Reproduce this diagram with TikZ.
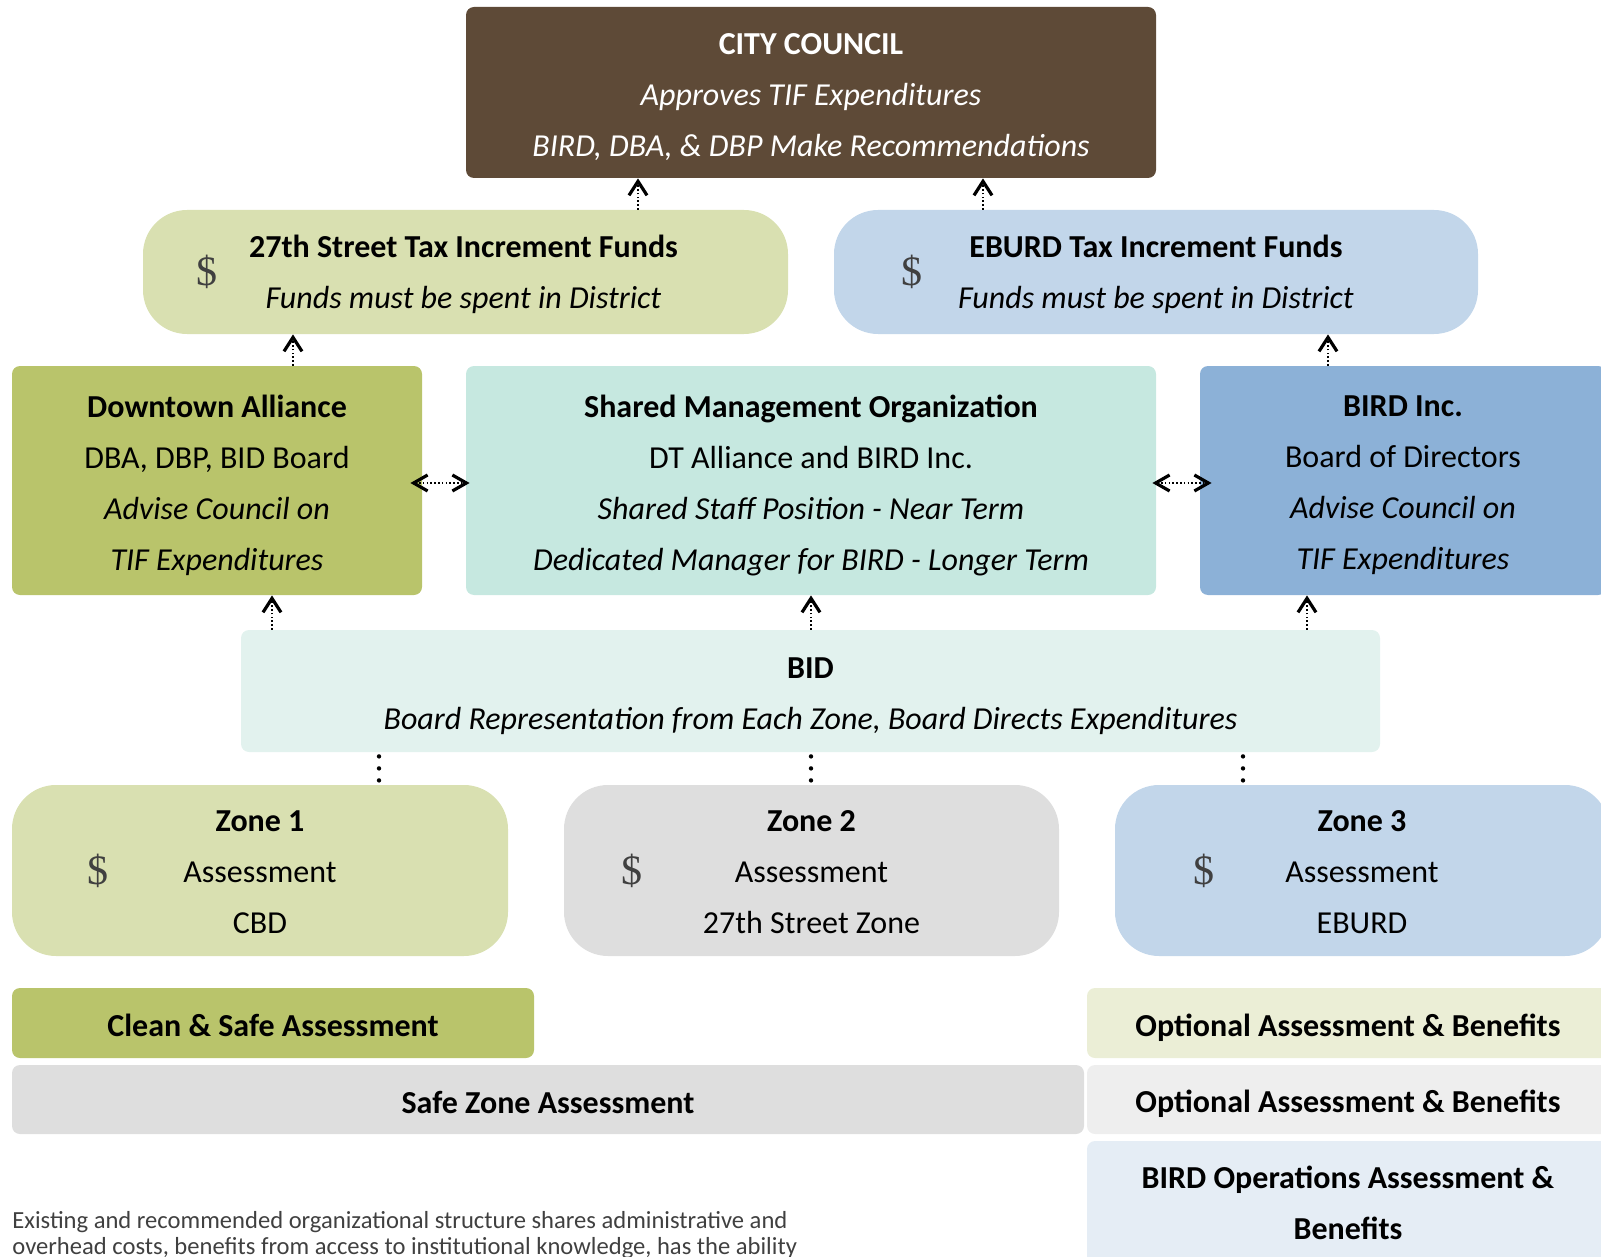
\documentclass[tikz,border=0pt]{standalone}
\usepackage{fontspec}
\setmainfont{Carlito}
\newfontfamily\dollarfont{Liberation Serif}
\usetikzlibrary{arrows.meta,fit}
\definecolor{councilbrown}{HTML}{5E4A37}
\definecolor{olivelight}{HTML}{D9E0B1}
\definecolor{olivemid}{HTML}{B9C46B}
\definecolor{bluelight}{HTML}{C2D6EA}
\definecolor{bluemid}{HTML}{8CB1D7}
\definecolor{tealmid}{HTML}{C6E8E0}
\definecolor{teallight}{HTML}{E2F2EE}
\definecolor{graymid}{HTML}{DEDEDE}
\definecolor{olivepale}{HTML}{EBEED6}
\definecolor{graypale}{HTML}{EEEEEE}
\definecolor{bluepale}{HTML}{E5EDF5}
\definecolor{notegray}{HTML}{404040}

\newcommand{\bodyfont}{\fontsize{16}{25.5}\selectfont}
\tikzset{
  panel/.style={fill=#1, inner sep=0pt, rounded corners=4pt},
  pill/.style={panel=#1, rounded corners=22pt},
  lbl/.style={inner sep=0pt, align=center, font=\bodyfont},
  dollar/.style={font=\dollarfont\fontsize{21}{21}\selectfont, text=notegray, inner sep=0pt},
  upflow/.style={dash pattern=on 0.8pt off 1.1pt, line width=1pt,
    -{Straight Barb[length=7pt,width=9pt,line width=1.6pt]}},
  sideflow/.style={dash pattern=on 0.8pt off 1.1pt, line width=1pt,
    {Straight Barb[length=7pt,width=8pt,line width=1.6pt]}-{Straight Barb[length=7pt,width=8pt,line width=1.6pt]}},
  dotlink/.style={line width=2.2pt, line cap=round, dash pattern=on 0pt off 6pt}
}

\begin{document}
\begin{tikzpicture}[x=0.5pt, y=-0.5pt]
\useasboundingbox (0,0) rectangle (1601,1257);
\clip (0,0) rectangle (1601,1257);

% Council
\node[panel=councilbrown, fit={(466,7) (1156,178)}] (council) {};
\node[lbl, text=white] (councilt) at ([yshift=-2.5pt]council.center)
  {\textbf{CITY COUNCIL}\\ \textit{Approves TIF Expenditures}\\ \textit{BIRD, DBA, \& DBP Make Recommendations}};

% Tax increment funds
\node[pill=olivelight, fit={(143,210) (788,334)}] (fund27) {};
\node[pill=bluelight, fit={(834,210) (1478,334)}] (fundeb) {};
\node[lbl] (fund27t) at ([xshift=-1pt, yshift=-1pt]fund27.center)
  {\textbf{27th Street Tax Increment Funds}\\ \textit{Funds must be spent in District}};
\node[lbl] (fundebt) at ([yshift=-1pt]fundeb.center)
  {\textbf{EBURD Tax Increment Funds}\\ \textit{Funds must be spent in District}};
\node[dollar] (d27) at ([xshift=32pt]fund27.west) {\$};
\node[dollar] (deb) at ([xshift=39pt]fundeb.west) {\$};

% Management row
\node[panel=olivemid, fit={(12,366) (422,595)}] (dta) {};
\node[panel=tealmid, fit={(466,366) (1156,595)}] (smo) {};
\node[panel=bluemid, fit={(1200,366) (1606,595)}] (bird) {};
\node[lbl] (dtat) at ([yshift=-2.5pt]dta.center)
  {\textbf{Downtown Alliance}\\ DBA, DBP, BID Board\\ \textit{Advise Council on}\\ \textit{TIF Expenditures}};
\node[lbl] (smot) at ([yshift=-2.5pt]smo.center)
  {\textbf{Shared Management Organization}\\ DT Alliance and BIRD Inc.\\ \textit{Shared Staff Position - Near Term}\\ \textit{Dedicated Manager for BIRD - Longer Term}};
\node[lbl] (birdt) at ([yshift=-2.5pt]bird.center)
  {\textbf{BIRD Inc.}\\ Board of Directors\\ \textit{Advise Council on}\\ \textit{TIF Expenditures}};

% BID
\node[panel=teallight, fit={(241,630) (1380,752)}] (bid) {};
\node[lbl] (bidt) at ([yshift=-2.5pt]bid.center)
  {\textbf{BID}\\ \textit{Board Representation from Each Zone, Board Directs Expenditures}};

% Zones
\node[pill=olivelight, fit={(12,785) (508,956)}] (zone1) {};
\node[pill=graymid, fit={(564,785) (1059,956)}] (zone2) {};
\node[pill=bluelight, fit={(1115,785) (1609,956)}] (zone3) {};
\node[lbl] (zone1t) at ([yshift=-1pt]zone1.center) {\textbf{Zone 1}\\ Assessment\\ CBD};
\node[lbl] (zone2t) at ([yshift=-1pt]zone2.center) {\textbf{Zone 2}\\ Assessment\\ 27th Street Zone};
\node[lbl] (zone3t) at ([yshift=-1pt]zone3.center) {\textbf{Zone 3}\\ Assessment\\ EBURD};
\node[dollar] (dz1) at ([xshift=43pt]zone1.west) {\$};
\node[dollar] (dz2) at ([xshift=34pt]zone2.west) {\$};
\node[dollar] (dz3) at ([xshift=44.5pt]zone3.west) {\$};

% Assessment bars
\node[panel=olivemid, fit={(12,988) (534,1058)}] (cleansafe) {};
\node[panel=graymid, fit={(12,1065) (1084,1134)}] (safezone) {};
\node[panel=olivepale, fit={(1087,988) (1609,1058)}] (opt1) {};
\node[panel=graypale, fit={(1087,1065) (1609,1134)}] (opt2) {};
\node[panel=bluepale, fit={(1087,1141) (1609,1264)}] (birdops) {};
\node[lbl] (cleansafet) at ([yshift=-1pt]cleansafe.center) {\textbf{Clean \& Safe Assessment}};
\node[lbl] (safezonet) at ([yshift=-1.5pt]safezone.center) {\textbf{Safe Zone Assessment}};
\node[lbl] (opt1t) at ([yshift=-2.5pt]opt1.center) {\textbf{Optional Assessment \& Benefits}};
\node[lbl] (opt2t) at ([yshift=-2pt]opt2.center) {\textbf{Optional Assessment \& Benefits}};
\node[lbl] (birdopst) at (birdops.center) {\textbf{BIRD Operations Assessment \&}\\ \textbf{Benefits}};

% Note
\node[anchor=north west, align=left, inner sep=0pt, text=notegray,
  font=\fontsize{12.3}{13.2}\selectfont] (note) at (12,1211)
  {Existing and recommended organizational structure shares administrative and\\
   overhead costs, benefits from access to institutional knowledge, has the ability};

% Connector positions
\coordinate (c27) at (638,0);
\coordinate (ceb) at (983,0);
\coordinate (cda) at (293,0);
\coordinate (cbi) at (1328,0);
\coordinate (bda) at (272,0);
\coordinate (bsm) at (811,0);
\coordinate (bbi) at (1307,0);
\coordinate (z1) at (379,0);
\coordinate (z2) at (811,0);
\coordinate (z3) at (1243,0);
\coordinate (mid) at (0,483);

\draw[upflow] (fund27.north -| c27) -- (council.south -| c27);
\draw[upflow] (fundeb.north -| ceb) -- (council.south -| ceb);
\draw[upflow] (dta.north -| cda) -- (fund27.south -| cda);
\draw[upflow] (bird.north -| cbi) -- (fundeb.south -| cbi);
\draw[upflow] (bid.north -| bda) -- (dta.south -| bda);
\draw[upflow] (bid.north -| bsm) -- (smo.south -| bsm);
\draw[upflow] (bid.north -| bbi) -- (bird.south -| bbi);
\draw[sideflow, shorten <=-6pt, shorten >=-2pt] (dta.east |- mid) -- (smo.west |- mid);
\draw[sideflow, shorten <=-2pt, shorten >=-6pt] (smo.east |- mid) -- (bird.west |- mid);

\draw[dotlink] ([yshift=-2pt]bid.south -| z1) -- ([yshift=1.5pt]zone1.north -| z1);
\draw[dotlink] ([yshift=-2pt]bid.south -| z2) -- ([yshift=1.5pt]zone2.north -| z2);
\draw[dotlink] ([yshift=-2pt]bid.south -| z3) -- ([yshift=1.5pt]zone3.north -| z3);
\end{tikzpicture}
\end{document}
